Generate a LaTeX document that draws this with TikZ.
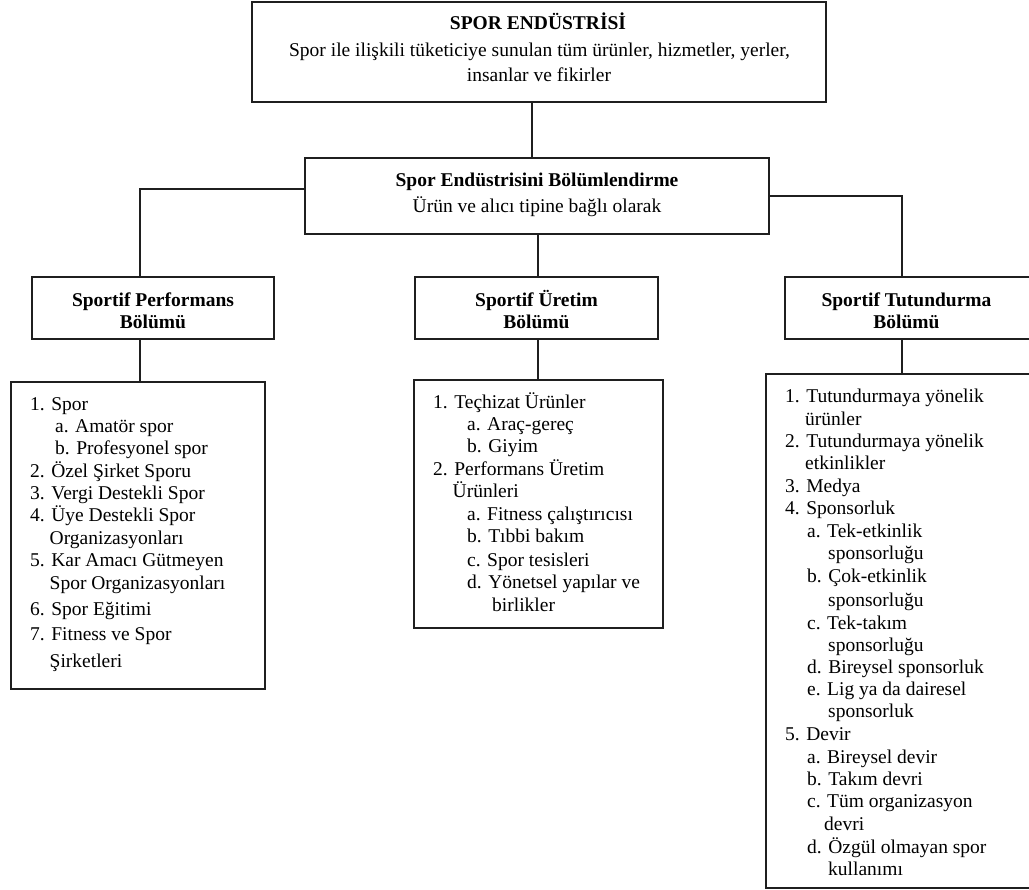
\documentclass[tikz,border=0pt]{standalone}
\usepackage{fontspec}
\setmainfont{Liberation Serif}
\begin{document}
\begin{tikzpicture}[x=1pt,y=-1pt,
  box/.style={draw=black!88, line width=1.6pt, inner sep=0pt, fill=white},
  conn/.style={draw=black!88, line width=1.6pt},
  itm/.style={font=\fontsize{19.5}{22}\selectfont, inner sep=0pt, anchor=base west},
  ctr/.style={font=\fontsize{19.5}{22}\selectfont, inner sep=0pt, anchor=base},
  bctr/.style={font=\fontsize{19.5}{22}\selectfont\bfseries, inner sep=0pt, anchor=base}]
\clip (0,0) rectangle (1029,890);
\fill[white] (0,0) rectangle (1029,890);

% boxes
\node[box, minimum width=574pt, minimum height=100pt] (top) at (539,52) {};
\node[box, minimum width=464pt, minimum height=76pt] (mid) at (537,196) {};
\node[box, minimum width=242pt, minimum height=62pt] (ph) at (153,308) {};
\node[box, minimum width=243pt, minimum height=62pt] (uh) at (536.5,308) {};
\node[box, minimum width=247pt, minimum height=62pt] (th) at (908.5,308) {};
\node[box, minimum width=254pt, minimum height=307pt] (pl) at (138,535.5) {};
\node[box, minimum width=249pt, minimum height=248pt] (ul) at (538.5,504) {};
\node[box, minimum width=266pt, minimum height=514pt] (tl) at (899,631) {};

% connector coordinates
\coordinate (jt) at (532,0);
\coordinate (jl) at (140,189);
\coordinate (jr) at (902,196);
\coordinate (jm) at (538,0);

\draw[conn] (top.south -| jt) -- (mid.north -| jt);
\draw[conn] (mid.west |- jl) -- (jl) -- (jl |- ph.north);
\draw[conn] (mid.east |- jr) -- (jr) -- (jr |- th.north);
\draw[conn] (mid.south -| jm) -- (uh.north -| jm);
\draw[conn] (ph.south -| jl) -- (pl.north -| jl);
\draw[conn] (uh.south -| jm) -- (ul.north -| jm);
\draw[conn] (th.south -| jr) -- (tl.north -| jr);

% top texts
\node[bctr] (t1) at (538,30) {SPOR ENDÜSTRİSİ};
\node[ctr] (t2) at (539.5,57) {Spor ile ilişkili tüketiciye sunulan tüm ürünler, hizmetler, yerler,};
\node[ctr] (t3) at (539,82) {insanlar ve fikirler};
\node[bctr] (m1) at (537,187) {Spor Endüstrisini Bölümlendirme};
\node[ctr] (m2) at (537,213) {Ürün ve alıcı tipine bağlı olarak};

% headers
\node[bctr] (ph1) at (153,307) {Sportif Performans};
\node[bctr] (ph2) at (153,329) {Bölümü};
\node[bctr] (uh1) at (536.5,307) {Sportif Üretim};
\node[bctr] (uh2) at (536.5,329) {Bölümü};
\node[bctr] (th1) at (906.5,307) {Sportif Tutundurma};
\node[bctr] (th2) at (906.5,329) {Bölümü};

% left list
\foreach \x/\y/\t [count=\i] in {
  30/411/1. Spor,
  55/433/a. Amatör spor,
  55/455/b. Profesyonel spor,
  30/478/2. Özel Şirket Sporu,
  30/500/3. Vergi Destekli Spor,
  30/522/4. Üye Destekli Spor,
  49.5/545/Organizasyonları,
  30/567/5. Kar Amacı Gütmeyen,
  49.5/590/Spor Organizasyonları,
  30/615/6. Spor Eğitimi,
  30/640/7. Fitness ve Spor,
  49.5/667/Şirketleri}
  \node[itm] (pl-\i) at (\x,\y) {\t};

% middle list
\foreach \x/\y/\t [count=\i] in {
  433/409/1. Teçhizat Ürünler,
  467/431/a. Araç-gereç,
  467/453/b. Giyim,
  433/476/2. Performans Üretim,
  452.5/498/Ürünleri,
  467/521/a. Fitness çalıştırıcısı,
  467/543/b. Tıbbi bakım,
  467/566/c. Spor tesisleri,
  467/588/d. Yönetsel yapılar ve,
  492/611/birlikler}
  \node[itm] (ul-\i) at (\x,\y) {\t};

% right list
\foreach \x/\y/\t [count=\i] in {
  785/403/1. Tutundurmaya yönelik,
  805/426/ürünler,
  785/448/2. Tutundurmaya yönelik,
  805/470/etkinlikler,
  785/493/3. Medya,
  785/515/4. Sponsorluk,
  807/538/a. Tek-etkinlik,
  828/560/sponsorluğu,
  807/583/b. Çok-etkinlik,
  828/606/sponsorluğu,
  807/629/c. Tek-takım,
  828/651/sponsorluğu,
  807/673/d. Bireysel sponsorluk,
  807/695/e. Lig ya da dairesel,
  828/717/sponsorluk,
  785/740/5. Devir,
  807/763/a. Bireysel devir,
  807/785/b. Takım devri,
  807/807/c. Tüm organizasyon,
  824/830/devri,
  807/853/d. Özgül olmayan spor,
  828/875/kullanımı}
  \node[itm] (tl-\i) at (\x,\y) {\t};
\end{tikzpicture}
\end{document}
